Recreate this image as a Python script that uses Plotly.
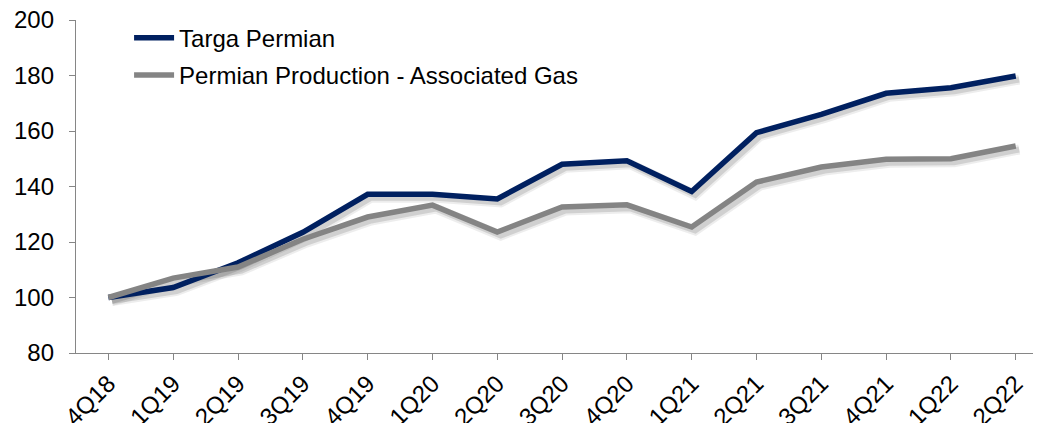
import plotly.graph_objects as go

quarters = ["4Q18", "1Q19", "2Q19", "3Q19", "4Q19", "1Q20", "2Q20", "3Q20",
            "4Q20", "1Q21", "2Q21", "3Q21", "4Q21", "1Q22", "2Q22"]
targa_permian = [100, 103.6, 112.5, 123.5, 137.2, 137.2, 135.5, 148.0,
                 149.3, 138.2, 159.4, 166.0, 173.6, 175.6, 179.8]
associated_gas = [100, 107.0, 111.0, 121.0, 129.0, 133.3, 123.6, 132.6,
                  133.4, 125.4, 141.6, 147.0, 149.8, 150.0, 154.6]
y_ticks = [80, 100, 120, 140, 160, 180, 200]

NAVY = "#002060"
GRAY = "#848484"
FONT = "Liberation Sans, Arial, sans-serif"
FS = 24

XR = [-0.5, 14.39]
YR = [80, 200]
px_per_cat = 965 / (XR[1] - XR[0])
px_per_unit = 333 / (YR[1] - YR[0])
sh = 3.5
XR_SH = [XR[0] - sh / px_per_cat, XR[1] - sh / px_per_cat]
YR_SH = [YR[0] + sh / px_per_unit, YR[1] + sh / px_per_unit]

xs = list(range(len(quarters)))
fig = go.Figure()

# soft drop shadows (base axes, shifted a few pixels)
for vals in (targa_permian, associated_gas):
    fig.add_trace(go.Scatter(x=xs, y=vals, mode="lines",
                             line=dict(color="rgba(0,0,0,0.07)", width=10),
                             showlegend=False, hoverinfo="skip",
                             xaxis="x", yaxis="y"))
    fig.add_trace(go.Scatter(x=xs, y=vals, mode="lines",
                             line=dict(color="rgba(0,0,0,0.12)", width=6),
                             showlegend=False, hoverinfo="skip",
                             xaxis="x", yaxis="y"))

fig.add_trace(go.Scatter(x=xs, y=targa_permian, mode="lines",
                         name="Targa Permian", legendgroup="a",
                         line=dict(color=NAVY, width=5.5),
                         xaxis="x2", yaxis="y2"))
fig.add_trace(go.Scatter(x=xs, y=associated_gas, mode="lines",
                         name="Permian Production - Associated Gas", legendgroup="b",
                         line=dict(color=GRAY, width=5.5),
                         xaxis="x2", yaxis="y2"))

# page has an 8px body margin, so the figure is 8px smaller and margins shifted
fig.update_layout(
    width=1033, height=415,
    margin=dict(l=68, r=0, t=12, b=70, autoexpand=False),
    paper_bgcolor="white", plot_bgcolor="white",
    font=dict(family=FONT, size=FS, color="#000000"),
    showlegend=True,
    legend=dict(x=0.055, y=1.013, xanchor="left", yanchor="top",
                font=dict(family=FONT, size=FS, color="#000000"),
                bgcolor="rgba(0,0,0,0)", tracegroupgap=3,
                itemwidth=40),
    xaxis=dict(range=XR_SH, visible=False, fixedrange=True, automargin=False),
    yaxis=dict(range=YR_SH, visible=False, fixedrange=True, automargin=False),
    xaxis2=dict(range=XR, overlaying="x", anchor="y2", automargin=False,
                tickmode="array", tickvals=xs,
                ticktext=quarters, tickangle=-45,
                ticklabeloverflow="allow",
                showline=True, linecolor="#868686", linewidth=1.3,
                ticks="outside", tickcolor="#868686", ticklen=6,
                showgrid=False, zeroline=False,
                tickfont=dict(family=FONT, size=FS, color="#000000")),
    yaxis2=dict(range=YR, overlaying="y", anchor="x2", side="left", automargin=False,
                tickmode="array", tickvals=y_ticks,
                ticklabeloverflow="allow",
                showline=True, linecolor="#868686", linewidth=1.3,
                ticks="outside", tickcolor="#868686", ticklen=6,
                ticklabelstandoff=10,
                showgrid=False, zeroline=False,
                tickfont=dict(family=FONT, size=FS, color="#000000")),
)

fig.write_html("out.html")
